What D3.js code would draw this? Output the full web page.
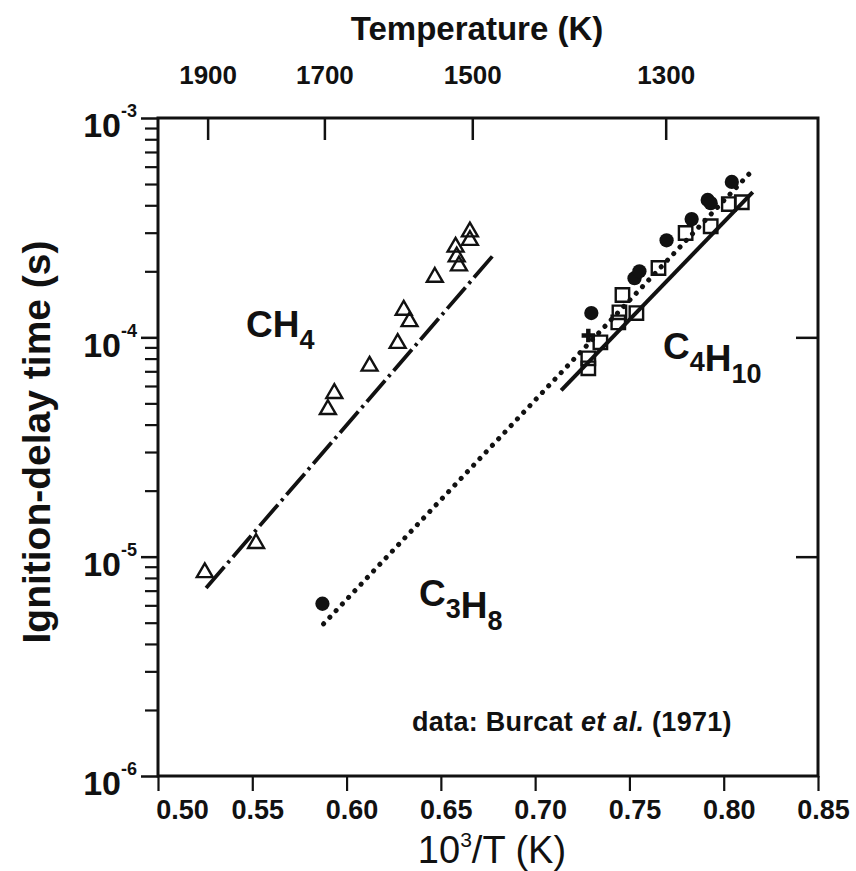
<!DOCTYPE html>
<html>
<head>
<meta charset="utf-8">
<script src="https://cdn.jsdelivr.net/npm/d3@7/dist/d3.min.js"></script>
<style>
  body { margin: 0; background: #fff; }
  text { font-family: "Liberation Sans", Arial, Helvetica, sans-serif; fill: #111; }
</style>
</head>
<body>
<div id="chartArea"></div>
<script>
// CH4 - open triangles, dash-dot fit
const ch4X = [0.5248, 0.5520, 0.5901, 0.5935, 0.6122, 0.6271, 0.6303, 0.6334, 0.6468, 0.6578, 0.6584, 0.6596, 0.6654, 0.6654];
const ch4Y = [8.47e-6, 1.15e-5, 4.69e-5, 5.55e-5, 7.40e-5, 9.4e-5, 1.33e-4, 1.18e-4, 1.88e-4, 2.58e-4, 2.33e-4, 2.12e-4, 3.03e-4, 2.77e-4];
const ch4FitX = [0.5255, 0.6782];
const ch4FitY = [7.2e-6, 2.39e-4];

// C3H8 - filled circles, dotted fit
const c3h8X = [0.5872, 0.7298, 0.7527, 0.7553, 0.7697, 0.7830, 0.7915, 0.7931, 0.8043];
const c3h8Y = [6.10e-6, 1.29e-4, 1.86e-4, 2.00e-4, 2.77e-4, 3.46e-4, 4.23e-4, 4.09e-4, 5.11e-4];
const c3h8CrossX = [0.7282];
const c3h8CrossY = [1.02e-4];
const c3h8FitX = [0.5878, 0.8154];
const c3h8FitY = [4.94e-6, 5.79e-4];

// C4H10 - open squares, solid fit
const c4h10X = [0.7282, 0.7282, 0.7346, 0.7441, 0.7447, 0.7463, 0.7537, 0.7654, 0.7798, 0.7931, 0.8027, 0.8096];
const c4h10Y = [8.02e-5, 7.22e-5, 9.49e-5, 1.17e-4, 1.30e-4, 1.56e-4, 1.29e-4, 2.07e-4, 2.99e-4, 3.21e-4, 4.05e-4, 4.13e-4];
const c4h10FitX = [0.7138, 0.8154];
const c4h10FitY = [5.73e-5, 4.59e-4];

// axes
const xTicks = [0.50, 0.55, 0.60, 0.65, 0.70, 0.75, 0.80, 0.85];
const tempTicks = [1900, 1700, 1500, 1300];
const yMajor = [1e-6, 1e-5, 1e-4, 1e-3];
const yExp = [-6, -5, -4, -3];

const zip = (xs, ys) => xs.map((x, i) => [x, ys[i]]);

const width = 856;
const height = 871;
const margin = { top: 118, left: 158, bottom: 95, right: 38 };
const iwidth = width - margin.left - margin.right;
const iheight = height - margin.top - margin.bottom;

const svg = d3.select('#chartArea').append('svg')
  .attr('width', width)
  .attr('height', height)
  .style('background', '#fff');

const g = svg.append('g')
  .attr('transform', `translate(${margin.left},${margin.top})`);

const x = d3.scaleLinear().domain([0.5, 0.85]).range([0, iwidth]);
const y = d3.scaleLog().domain([1e-6, 1e-3]).range([iheight, 0]);

// minor ticks on the left axis
const minor = [];
yMajor.slice(0, 3).forEach((m) => {
  for (let k = 2; k <= 9; k++) minor.push(m * k);
});

g.append('g')
  .call(d3.axisLeft(y).tickValues(minor).tickSize(13).tickFormat(''))
  .call((a) => a.select('.domain').remove())
  .selectAll('line').attr('stroke', '#111').attr('stroke-width', 2.2);

const yAxis = g.append('g')
  .call(d3.axisLeft(y).tickValues(yMajor).tickSize(17).tickPadding(4).tickFormat(''));
yAxis.select('.domain').remove();
yAxis.selectAll('line').attr('stroke', '#111').attr('stroke-width', 2.5);
yAxis.selectAll('text').each(function (d, i) {
  const t = d3.select(this)
    .attr('font-size', 34)
    .attr('font-weight', 'bold')
    .attr('dy', '0.55em');
  t.append('tspan').text('10');
  t.append('tspan').attr('font-size', 18).attr('dy', '-1.1em').text(yExp[i]);
});

// right axis: only decade ticks, inward
g.append('g')
  .attr('transform', `translate(${iwidth},0)`)
  .call(d3.axisLeft(y).tickValues([1e-5, 1e-4]).tickSize(22).tickFormat(''))
  .call((a) => a.select('.domain').remove())
  .selectAll('line').attr('stroke', '#111').attr('stroke-width', 2.5);

// bottom axis
const xAxis = g.append('g')
  .attr('transform', `translate(0,${iheight})`)
  .call(d3.axisBottom(x).tickValues(xTicks).tickSize(15).tickPadding(9).tickFormat(d3.format('.2f')));
xAxis.select('.domain').remove();
xAxis.selectAll('line').attr('stroke', '#111').attr('stroke-width', 2.2);
xAxis.selectAll('text')
  .attr('font-size', 27)
  .attr('font-weight', 'bold')
  .attr('dx', (d, i) => (i === 0 ? 24 : 5));

// top axis: temperature
const topAxis = g.append('g')
  .call(d3.axisTop(x)
    .tickValues(tempTicks.map((T) => 1000 / T))
    .tickSize(-22)
    .tickPadding(34)
    .tickFormat((d, i) => tempTicks[i]));
topAxis.select('.domain').remove();
topAxis.selectAll('line').attr('stroke', '#111').attr('stroke-width', 2.5);
topAxis.selectAll('text')
  .attr('font-size', 26)
  .attr('font-weight', 'bold');

// frame
g.append('rect')
  .attr('width', iwidth)
  .attr('height', iheight)
  .attr('fill', 'none')
  .attr('stroke', '#111')
  .attr('stroke-width', 3);

// fit lines
const line = d3.line().x((d) => x(d[0])).y((d) => y(d[1]));

g.append('path')
  .datum(zip(ch4FitX, ch4FitY))
  .attr('d', line)
  .attr('fill', 'none')
  .attr('stroke', '#111')
  .attr('stroke-width', 3.8)
  .attr('stroke-dasharray', '28,5,3,5');

g.append('path')
  .datum(zip(c3h8FitX, c3h8FitY))
  .attr('d', line)
  .attr('fill', 'none')
  .attr('stroke', '#111')
  .attr('stroke-width', 5)
  .attr('stroke-linecap', 'round')
  .attr('stroke-dasharray', '0.1,9');

g.append('path')
  .datum(zip(c4h10FitX, c4h10FitY))
  .attr('d', line)
  .attr('fill', 'none')
  .attr('stroke', '#111')
  .attr('stroke-width', 4);

// markers
const sym = (type, size) => d3.symbol().type(type).size(size)();

g.selectAll('.tri').data(zip(ch4X, ch4Y)).enter().append('path')
  .attr('class', 'tri')
  .attr('d', sym(d3.symbolTriangle, 110))
  .attr('transform', (d) => `translate(${x(d[0])},${y(d[1])})`)
  .attr('fill', 'none')
  .attr('stroke', '#111')
  .attr('stroke-width', 2.4);

g.selectAll('.sq').data(zip(c4h10X, c4h10Y)).enter().append('path')
  .attr('class', 'sq')
  .attr('d', sym(d3.symbolSquare, 180))
  .attr('transform', (d) => `translate(${x(d[0])},${y(d[1])})`)
  .attr('fill', 'none')
  .attr('stroke', '#111')
  .attr('stroke-width', 2.4);

g.selectAll('.dot').data(zip(c3h8X, c3h8Y)).enter().append('path')
  .attr('class', 'dot')
  .attr('d', sym(d3.symbolCircle, 160))
  .attr('transform', (d) => `translate(${x(d[0])},${y(d[1])})`)
  .attr('fill', '#111');

g.selectAll('.cross').data(zip(c3h8CrossX, c3h8CrossY)).enter().append('path')
  .attr('class', 'cross')
  .attr('d', sym(d3.symbolCross, 100))
  .attr('transform', (d) => `translate(${x(d[0])},${y(d[1])})`)
  .attr('fill', '#111');

// species labels
const formula = (px, py, parts) => {
  const t = svg.append('text').attr('x', px).attr('y', py)
    .attr('font-size', 37).attr('font-weight', 'bold');
  parts.forEach(([s, sub]) => {
    t.append('tspan').text(s);
    if (sub) {
      t.append('tspan').attr('font-size', 27).attr('dy', 12).text(sub);
      t.append('tspan').attr('dy', -12).text('');
    }
  });
};
formula(246, 337, [['C'], ['H', '4']]);
formula(419, 606, [['C', '3'], ['H', '8']]);
formula(663, 359, [['C', '4'], ['H', '10']]);

// source note
const note = svg.append('text')
  .attr('x', 412)
  .attr('y', 731)
  .attr('font-size', 27)
  .attr('letter-spacing', 0.3)
  .attr('font-weight', 'bold');
note.append('tspan').text('data: Burcat ');
note.append('tspan').attr('font-style', 'italic').text('et al.');
note.append('tspan').text(' (1971)');

// titles
svg.append('text')
  .attr('x', 477)
  .attr('y', 40)
  .attr('text-anchor', 'middle')
  .attr('font-size', 33)
  .attr('font-weight', 'bold')
  .text('Temperature (K)');

const xt = svg.append('text')
  .attr('x', 492)
  .attr('y', 863)
  .attr('text-anchor', 'middle')
  .attr('font-size', 38);
xt.append('tspan').text('10');
xt.append('tspan').attr('font-size', 21).attr('dy', -16).text('3');
xt.append('tspan').attr('dy', 16).text('/T (K)');

svg.append('text')
  .attr('transform', 'translate(50,442) rotate(-90)')
  .attr('text-anchor', 'middle')
  .attr('font-size', 39)
  .attr('font-weight', 'bold')
  .text('Ignition-delay time (s)');
</script>
</body>
</html>
